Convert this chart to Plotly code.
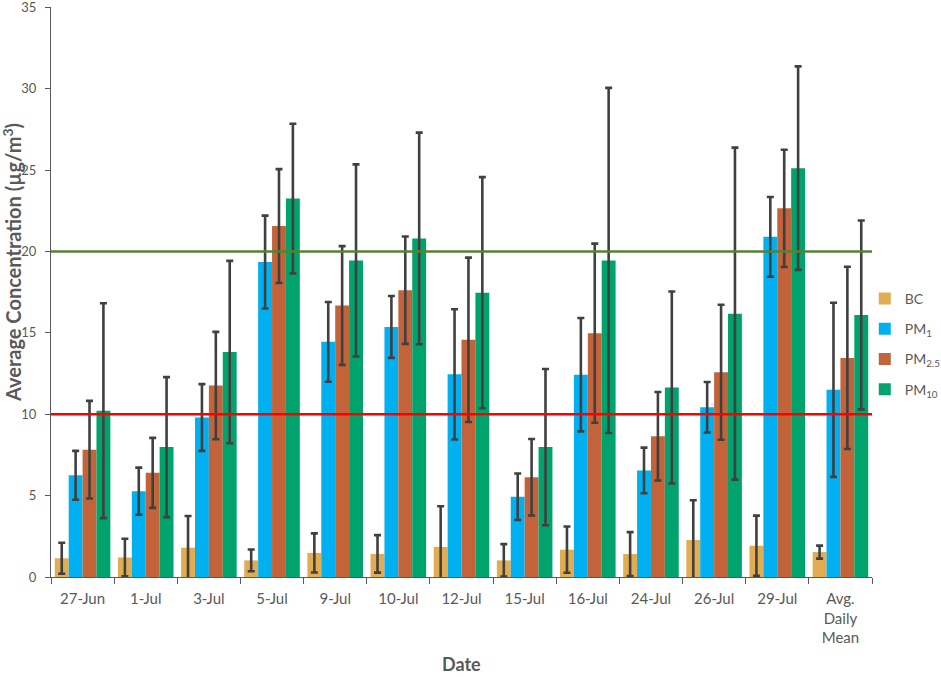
import plotly.graph_objects as go

categories = ["27-Jun", "1-Jul", "3-Jul", "5-Jul", "9-Jul", "10-Jul", "12-Jul",
              "15-Jul", "16-Jul", "24-Jul", "26-Jul", "29-Jul", "Avg.<br>Daily<br>Mean"]

bc = [1.15, 1.2, 1.8, 1.02, 1.48, 1.42, 1.85, 1.02, 1.68, 1.41, 2.27, 1.92, 1.53]
bc_err = [0.95, 1.15, 1.95, 0.67, 1.2, 1.15, 2.5, 1.0, 1.42, 1.35, 2.45, 1.85, 0.4]

pm1 = [6.25, 5.27, 9.8, 19.35, 14.45, 15.36, 12.45, 4.93, 12.43, 6.55, 10.43, 20.9, 11.5]
pm1_err = [1.5, 1.45, 2.05, 2.85, 2.45, 1.9, 4.0, 1.43, 3.48, 1.4, 1.55, 2.45, 5.35]

pm25 = [7.82, 6.4, 11.76, 21.56, 16.68, 17.62, 14.57, 6.13, 14.98, 8.65, 12.58, 22.65, 13.46]
pm25_err = [3.0, 2.15, 3.3, 3.5, 3.65, 3.3, 5.05, 2.35, 5.5, 2.72, 4.15, 3.6, 5.6]

pm10 = [10.22, 7.98, 13.82, 23.25, 19.45, 20.8, 17.47, 7.98, 19.45, 11.64, 16.18, 25.12, 16.1]
pm10_err = [6.6, 4.3, 5.6, 4.6, 5.9, 6.5, 7.1, 4.8, 10.6, 5.9, 10.2, 6.25, 5.8]

series_names = ["BC", "PM<sub>1</sub>", "PM<sub>2.5</sub>", "PM<sub>10</sub>"]
series_values = [bc, pm1, pm25, pm10]
series_errors = [bc_err, pm1_err, pm25_err, pm10_err]
series_colors = ["#E2AC52", "#00B0F0", "#C3633A", "#00A36C"]

guideline_values = [10, 20]
guideline_colors = ["#FF0000", "#548235"]

y_ticks = [0, 5, 10, 15, 20, 25, 30, 35]

fig = go.Figure()
for i, (name, vals, errs, col) in enumerate(zip(series_names, series_values, series_errors, series_colors)):
    fig.add_trace(go.Bar(
        x=categories, y=vals, name=name, marker=dict(color=col, line=dict(width=0)),
        legendgroup=f"g{i}",
        error_y=dict(type="data", array=errs, visible=True, color="#404040",
                     thickness=2.6, width=3.5),
    ))

for v, c in zip(guideline_values, guideline_colors):
    fig.add_shape(type="line", xref="paper", x0=0, x1=1, yref="y", y0=v, y1=v,
                  line=dict(color=c, width=2.6), layer="above")

axis_color = "#595959"
fig.update_layout(
    width=941, height=677,
    margin=dict(l=51, r=69, t=7, b=100, autoexpand=False),
    paper_bgcolor="white", plot_bgcolor="white",
    barmode="group", bargap=0.12, bargroupgap=0,
    font=dict(family="Lato, 'Open Sans', sans-serif", color=axis_color, size=14),
    showlegend=True,
    legend=dict(xref="container", yref="container", x=0.919, xanchor="left",
                y=0.582, yanchor="top",
                font=dict(size=14, color=axis_color), tracegroupgap=9,
                bgcolor="rgba(0,0,0,0)", itemwidth=30),
    xaxis=dict(
        type="category", showline=True, linecolor=axis_color, linewidth=1.3,
        ticks="outside", tickson="boundaries", ticklen=6, tickcolor=axis_color,
        tickfont=dict(size=15, color=axis_color), showgrid=False, automargin=False,
        ticklabelstandoff=8,
    ),
    yaxis=dict(
        range=[0, 35.02], tickvals=y_ticks, showline=True, linecolor=axis_color, linewidth=1.3,
        ticks="outside", ticklen=5, tickcolor=axis_color, showgrid=False, zeroline=False,
        tickfont=dict(size=13, color=axis_color), automargin=False, ticklabelstandoff=6,
        ticklabeloverflow="allow",
    ),
    annotations=[
        dict(text="<b>Date</b>", xref="paper", yref="paper", x=0.5, y=-87/570,
             xanchor="center", yanchor="middle", showarrow=False,
             font=dict(size=18, color=axis_color)),
        dict(text="<b>Average Concentration (µg/m<sup>3</sup>)</b>", xref="paper", yref="paper",
             x=-39/821, y=(577 - 263) / 570, xanchor="center", yanchor="middle",
             showarrow=False, textangle=-90, font=dict(size=20, color=axis_color)),
    ],
)

fig.write_html(
    "out.html",
    config={"displayModeBar": False},
    post_script="document.body.style.margin='0';document.body.style.padding='0';"
                "document.body.style.overflow='hidden';",
)
